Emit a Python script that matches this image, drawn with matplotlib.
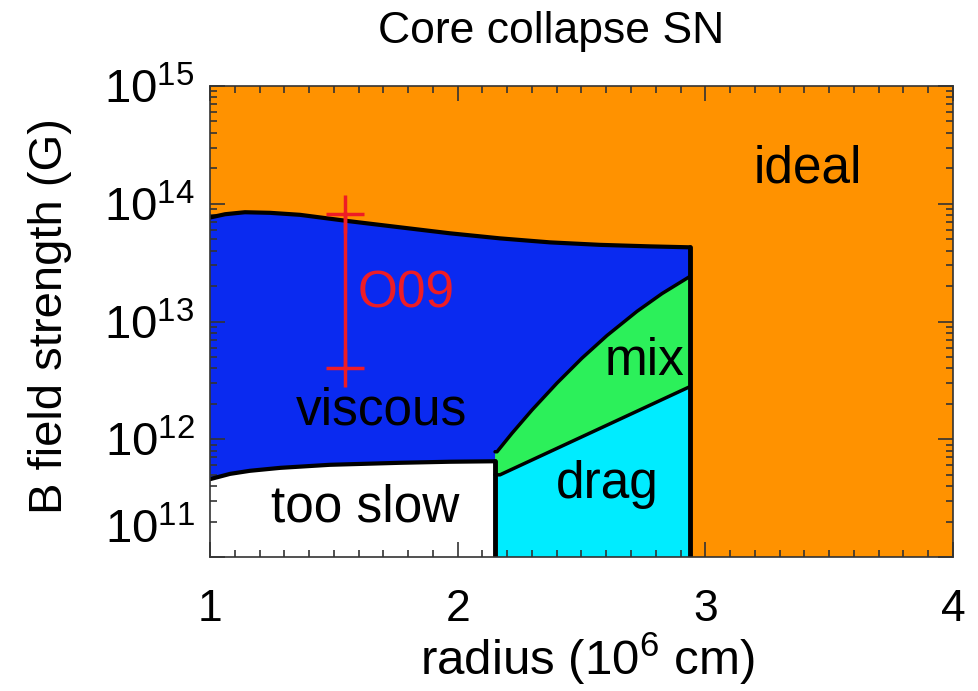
import numpy as np
import matplotlib
matplotlib.use("Agg")
import matplotlib.pyplot as plt
from matplotlib.ticker import FixedLocator, MultipleLocator, LogLocator, NullFormatter
from matplotlib.transforms import ScaledTranslation

plt.rcParams['font.family'] = ['Liberation Sans', 'DejaVu Sans']
plt.rcParams['mathtext.default'] = 'regular'

# regime boundaries, radius in 1e6 cm, field as log10(B/G)
r_ideal = [1.0, 1.061, 1.141, 1.242, 1.363, 1.565, 1.767, 1.969, 2.171, 2.373, 2.574, 2.776, 2.938]
logb_ideal = [13.883, 13.911, 13.928, 13.923, 13.906, 13.851, 13.800, 13.749, 13.706, 13.672,
              13.651, 13.638, 13.630]

r_slow = [1.0, 1.081, 1.161, 1.283, 1.484, 1.767, 1.969, 2.151]
logb_slow = [11.661, 11.706, 11.732, 11.757, 11.783, 11.800, 11.809, 11.813]

r_mix_hi = [2.159, 2.219, 2.300, 2.401, 2.502, 2.603, 2.724, 2.825, 2.938]
logb_mix_hi = [11.894, 12.050, 12.248, 12.477, 12.689, 12.881, 13.086, 13.237, 13.383]

r_mix_lo = [2.171, 2.938]
logb_mix_lo = [11.698, 12.447]

r_edge_slow = 2.151   # too slow / drag wall
r_edge_ideal = 2.938  # everything beyond is ideal

# O09 estimate
r_o09 = 1.545
logb_o09 = [13.911, 12.606]

# region labels: text, radius, log10 B (baseline)
region_text = ['ideal', 'viscous', 'too slow', 'mix', 'drag']
region_r = [3.416, 1.694, 1.626, 2.756, 2.605]
region_logb = [14.18, 12.123, 11.30, 12.549, 11.502]

ytick_vals = [1e11, 1e12, 1e13, 1e14, 1e15]
ytick_text = [r'$10^{11}$', r'$10^{12}$', r'$10^{13}$', r'$10^{14}$', r'$10^{15}$']
xtick_vals = [1, 2, 3, 4]

c_orange = '#ff9200'
c_blue = '#0a2af0'
c_green = '#2cf05a'
c_cyan = '#00ecff'
c_red = '#ee1c25'

fig = plt.figure(figsize=(9.79, 6.91), dpi=100)
ax = fig.add_axes([210/979, (691-557)/691, 743/979, 471/691])
ax.set_yscale('log')
ax.set_facecolor(c_orange)

B = lambda v: 10**np.asarray(v, dtype=float)
ybot = 1e11

# too slow (white)
xs = [r_slow[0]] + r_slow + [r_edge_slow]
ys = [ybot] + list(B(logb_slow)) + [ybot]
ax.fill(xs, ys, color='white', lw=0, zorder=1)

# viscous (blue)
xs = r_ideal + r_mix_hi[::-1] + r_slow[::-1]
ys = list(B(logb_ideal)) + list(B(logb_mix_hi[::-1])) + list(B(logb_slow[::-1]))
ax.fill(xs, ys, color=c_blue, lw=0, zorder=1)

# mix (green)
xs = [r_edge_slow] + r_mix_hi + r_mix_lo[::-1] + [r_edge_slow]
ys = [B(logb_mix_hi[0])] + list(B(logb_mix_hi)) + list(B(logb_mix_lo[::-1])) + [B(logb_mix_lo[0])]
ax.fill(xs, ys, color=c_green, lw=0, zorder=1)

# drag (cyan)
xs = [r_edge_slow] + r_mix_lo + [r_edge_ideal, r_edge_slow]
ys = [B(logb_mix_lo[0])] + list(B(logb_mix_lo)) + [ybot, ybot]
ax.fill(xs, ys, color=c_cyan, lw=0, zorder=1)

# boundary lines
kw = dict(color='k', zorder=3, solid_joinstyle='round', solid_capstyle='round')
ax.plot(r_ideal, B(logb_ideal), lw=3, **kw)
ax.plot(r_slow, B(logb_slow), lw=3, **kw)
ax.plot([r_edge_slow] + r_mix_hi, B([logb_mix_hi[0]] + logb_mix_hi), lw=2.5, **kw)
ax.plot([r_edge_slow] + r_mix_lo, B([logb_mix_lo[0]] + logb_mix_lo), lw=2.5, **kw)
ax.plot([r_edge_slow, r_edge_slow], [ybot, B(logb_slow[-1])], lw=3.5, **kw)
ax.plot([r_edge_ideal, r_edge_ideal], [ybot, B(logb_ideal[-1])], lw=3.5, **kw)

# O09 range
ax.plot([r_o09, r_o09], B(logb_o09), color=c_red, lw=2.5, marker='+', ms=27, mew=2.5, zorder=4)
ax.text(1.596, B(13.119), 'O09', color=c_red, fontsize=37, ha='left', va='baseline', zorder=5)

for t, r, lb in zip(region_text, region_r, region_logb):
    ax.text(r, B(lb), t, fontsize=37, ha='center', va='baseline', color='k', zorder=5)

ax.set_xlim(1, 4)
ax.set_ylim(1e11, 1e15)

ax.xaxis.set_major_locator(FixedLocator(xtick_vals))
ax.xaxis.set_minor_locator(MultipleLocator(0.1))
ax.set_xticklabels([str(v) for v in xtick_vals])
ax.yaxis.set_major_locator(FixedLocator(ytick_vals))
ax.yaxis.set_minor_locator(LogLocator(base=10, subs=np.arange(2, 10)))
ax.yaxis.set_minor_formatter(NullFormatter())
ax.set_yticklabels(ytick_text)

ax.tick_params(which='both', direction='in', top=True, right=True, color='#333333', width=1.2)
ax.tick_params(which='major', length=11)
ax.tick_params(which='minor', length=5)
ax.tick_params(axis='x', which='major', labelsize=32, pad=23)
ax.tick_params(axis='y', which='major', labelsize=34, pad=11)

# lift the bottom label clear of the x axis
lab = ax.yaxis.get_major_ticks()[0].label1
lab.set_transform(lab.get_transform() + ScaledTranslation(0, 0.31, fig.dpi_scale_trans))

for s in ax.spines.values():
    s.set_linewidth(1.2)
    s.set_color('#333333')
    s.set_zorder(6)

fig.text(551/979, 1 - 43/691, 'Core collapse SN', fontsize=32, ha='center', va='baseline')
fig.text(587/979, 1 - 675/691, r'radius (10$^6$ cm)', fontsize=35.5, ha='center', va='baseline')
fig.text(50/979, 1 - 316/691, 'B field strength (G)', fontsize=34, rotation=90, ha='center', va='center')

fig.savefig('out.png', dpi=100)
